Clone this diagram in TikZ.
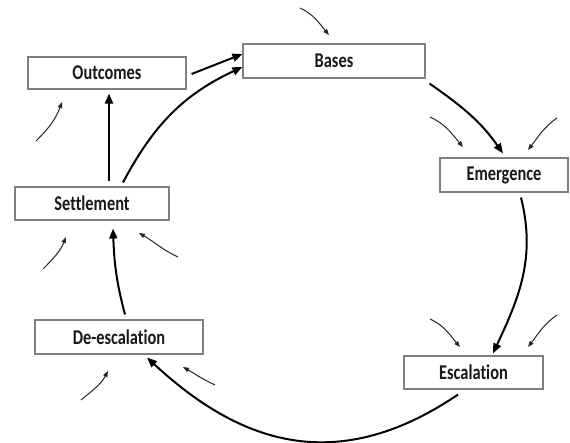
\documentclass[tikz,border=0pt]{standalone}
\usepackage{fontspec}
\usepackage{graphicx}
\setmainfont{Carlito}[Ligatures=NoCommon]
\usetikzlibrary{arrows.meta}
\newcommand{\lbl}[1]{\scalebox{0.78}[1]{\bfseries\fontsize{21}{24}\selectfont #1}}
\begin{document}
\begin{tikzpicture}[x=1pt,y=-1pt,
  box/.style={draw=black!50, line width=1.1pt, fill=white, inner sep=0pt, text=black!90},
  main/.style={line width=2pt, -{Triangle[length=10pt,width=8pt]}},
  thin/.style={line width=1pt, draw=black!85, -{Triangle[length=6pt,width=4.5pt]}}]
\useasboundingbox (0,0) rectangle (570,443);
\fill[white] (0,0) rectangle (570,443);
% boxes
\node[box, minimum width=158pt, minimum height=32pt] (out) at (107,73) {\lbl{Outcomes}};
\node[box, minimum width=182pt, minimum height=34pt] (bas) at (334,61) {\lbl{Bases}};
\node[box, minimum width=128pt, minimum height=34pt] (eme) at (504,175) {\lbl{Emergence}};
\node[box, minimum width=154pt, minimum height=33pt] (set) at (92,203.5) {\lbl{Settlement}};
\node[box, minimum width=168pt, minimum height=34pt] (dee) at (119,337) {\lbl{De-escalation}};
\node[box, minimum width=139pt, minimum height=33pt] (esc) at (473.5,372.5) {\lbl{Escalation}};
% main cycle
\draw[main] ([xshift=5pt,yshift=-1pt]out.east) -- ([yshift=7pt]bas.west);
\draw[main] ([xshift=31pt,yshift=4pt]set.north) to[out=62,in=205] ([yshift=-6pt]bas.west);
\draw[main] ([xshift=17pt,yshift=5pt]set.north) -- ([xshift=2pt,yshift=-4pt]out.south);
\draw[main] ([xshift=4pt,yshift=-5pt]bas.south east) to[out=-35,in=125] ([xshift=-1pt,yshift=4pt]eme.north);
\draw[main] ([xshift=17pt,yshift=-5pt]eme.south) to[out=-76,in=65] ([xshift=19.5pt,yshift=2pt]esc.north);
\draw[main] ([xshift=-15.5pt,yshift=-5pt]esc.south) .. controls (332,480) and (235,439) .. ([xshift=28pt,yshift=-3pt]dee.south);
\draw[main] ([xshift=6pt,yshift=5pt]dee.north) to[out=105,in=-88] ([xshift=21pt,yshift=-8pt]set.south);
% small influence arrows
\coordinate (a1s) at (300,8);   \coordinate (a1e) at (329,35);
\coordinate (a2s) at (430,117); \coordinate (a2e) at (463,147);
\coordinate (a3s) at (557,118); \coordinate (a3e) at (528,150);
\coordinate (a4s) at (430,319); \coordinate (a4e) at (460,347);
\coordinate (a5s) at (557,315); \coordinate (a5e) at (528,347);
\coordinate (a6s) at (36,141);  \coordinate (a6e) at (62,102);
\coordinate (a7s) at (43,269);  \coordinate (a7e) at (66,237);
\coordinate (a8s) at (178,257); \coordinate (a8e) at (139,233);
\coordinate (a9s) at (81,400);  \coordinate (a9e) at (108,371);
\coordinate (a10s) at (215,385); \coordinate (a10e) at (183,367);
\draw[thin] (a1s) to[out=-25,in=130] (a1e);
\draw[thin] (a2s) to[out=-25,in=130] (a2e);
\draw[thin] (a3s) to[out=-145,in=52] (a3e);
\draw[thin] (a4s) to[out=-25,in=130] (a4e);
\draw[thin] (a5s) to[out=-145,in=52] (a5e);
\draw[thin] (a6s) to[out=45,in=-110] (a6e);
\draw[thin] (a7s) to[out=45,in=-112] (a7e);
\draw[thin] (a8s) to[out=155,in=-30] (a8e);
\draw[thin] (a9s) to[out=40,in=-118] (a9e);
\draw[thin] (a10s) to[out=155,in=-30] (a10e);
\end{tikzpicture}
\end{document}
